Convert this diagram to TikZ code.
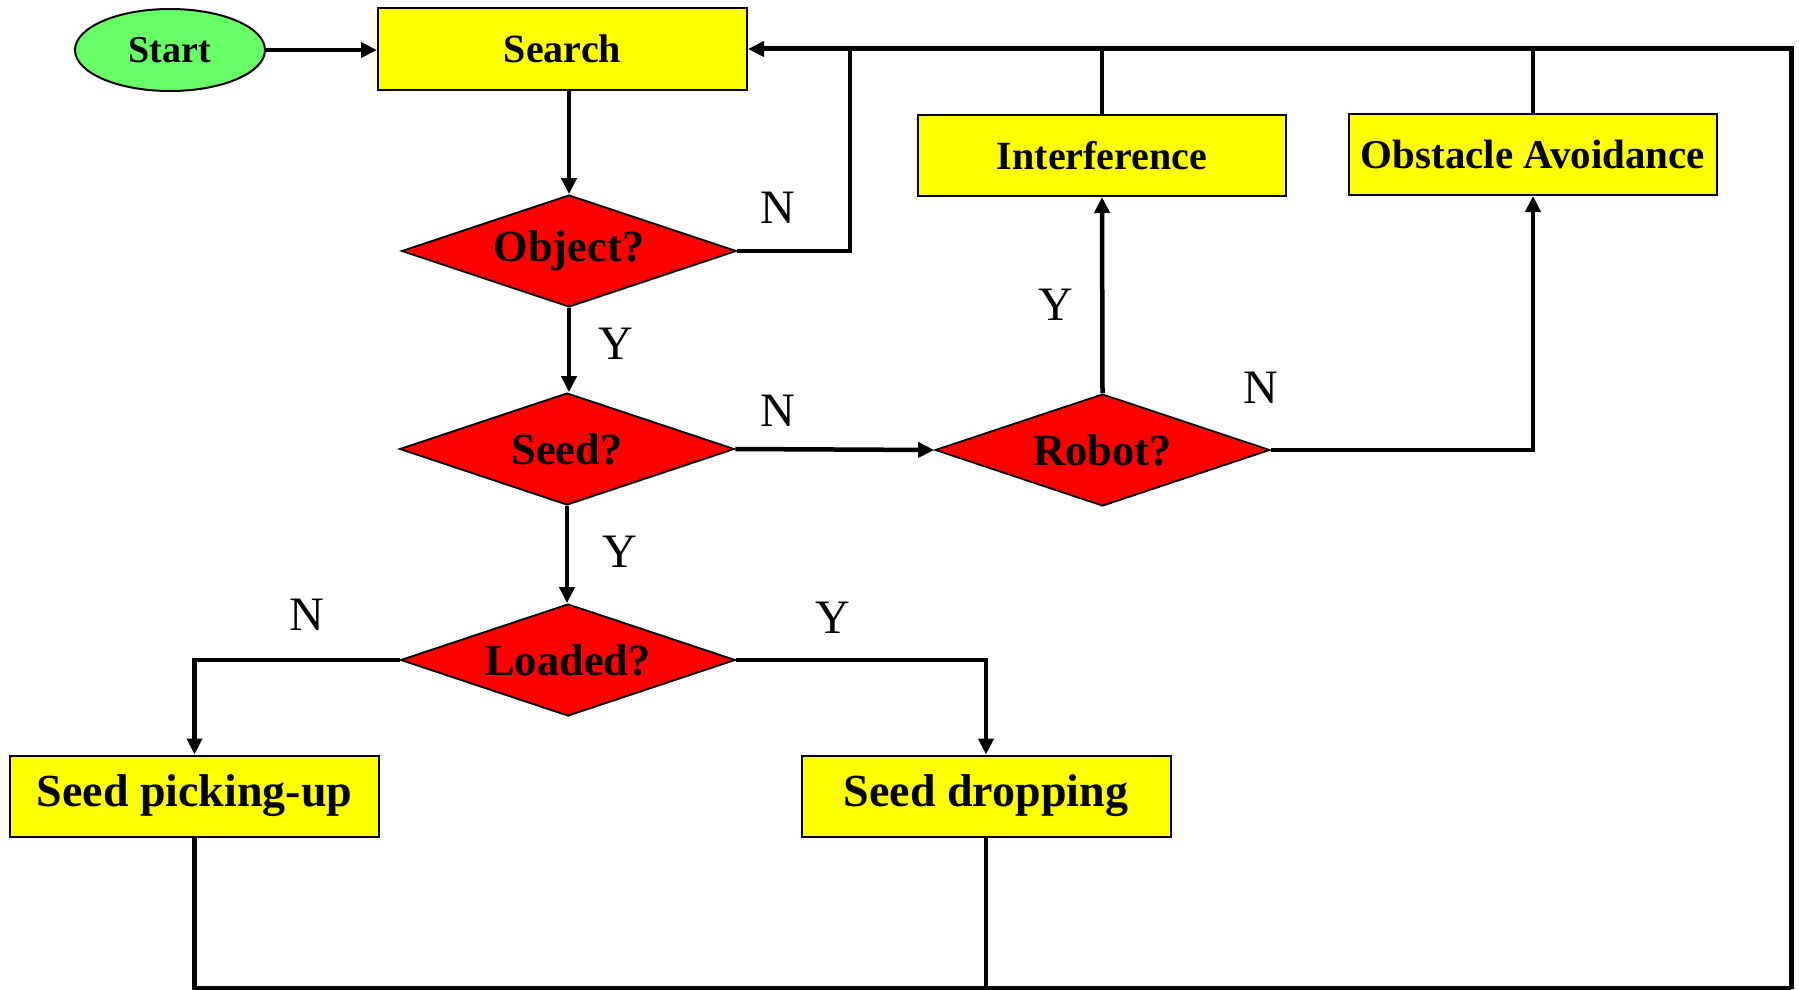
\documentclass[tikz,border=0pt]{standalone}
\usepackage{fontspec}
\setmainfont{Liberation Serif}
\usetikzlibrary{shapes.geometric,arrows.meta}
\definecolor{startgreen}{HTML}{66FF66}
\definecolor{boxyellow}{HTML}{FFFF00}
\definecolor{decred}{HTML}{FF0000}
\begin{document}
\begin{tikzpicture}[x=1pt,y=-1pt,
  every node/.style={inner sep=0pt},
  proc/.style={draw=black, line width=2pt, fill=boxyellow, minimum width=369pt, minimum height=81pt, font=\bfseries\fontsize{40}{46}\selectfont},
  bigproc/.style={proc, font=\bfseries\fontsize{46}{52}\selectfont},
  dec/.style={draw=black, line width=1.8pt, fill=decred, shape=diamond, aspect=3, minimum width=335pt, minimum height=112pt, font=\bfseries\fontsize{44.5}{50}\selectfont},
  lbl/.style={font=\fontsize{48}{55}\selectfont},
  conn/.style={line width=4.5pt, line join=miter},
  arr/.style={conn, -{Triangle[length=16pt,width=15pt]}}]
\useasboundingbox (0,0) rectangle (1799,990);

% nodes
\node[draw=black, line width=2pt, fill=startgreen, ellipse, minimum width=190pt, minimum height=82pt, font=\bfseries\fontsize{38}{43}\selectfont] (start) at (170,50) {Start};
\node[proc] (search) at (562.5,49) {Search};
\node[dec] (object) at (569,251) {Object?};
\node[dec] (seed) at (567,449) {Seed?};
\node[dec] (robot) at (1102.5,450) {Robot?};
\node[dec] (loaded) at (568,660) {Loaded?};
\node[proc, minimum width=368pt] (interf) at (1102,155.5) {Interference};
\node[proc, minimum width=368pt, font=\bfseries\fontsize{41}{46}\selectfont] (obst) at (1533,154.5) {Obstacle Avoidance};
\node[bigproc] (pick) at (194.5,796) {Seed picking-up};
\node[bigproc] (drop) at (986,796) {Seed dropping};

% labels
\node[lbl] (nobj) at (777.5,208) {N};
\node[lbl] (yobj) at (616,344) {Y};
\node[lbl] (nseed) at (778,411) {N};
\node[lbl] (yseed) at (619.5,552) {Y};
\node[lbl] (yrob) at (1056,305) {Y};
\node[lbl] (nrob) at (1261,388) {N};
\node[lbl] (nload) at (306.5,615) {N};
\node[lbl] (yload) at (833,618) {Y};

% helper coordinates
\coordinate (jobj) at (850,49);
\coordinate (tr) at (1791,49);
\coordinate (br) at (1791,988.5);

% connectors
\draw[arr] (start) -- (search.west |- start);
\draw[arr] (object.north |- search.south) -- (object.north);
\draw[arr] (object.south) -- (object.south |- seed.north);
\draw[conn] (object.east) -| (jobj);
\draw[arr, line width=5pt] (br) -- (tr) -- (search.east);
\draw[conn] (interf.north) -- (interf.north |- tr);
\draw[conn] (obst.north) -- (obst.north |- tr);
\draw[arr] (seed.east) -- (robot.west);
\draw[arr] (robot.north) -- (interf.south);
\draw[arr] (robot.east) -| (obst.south);
\draw[arr] (seed.south) -- (seed.south |- loaded.north);
\draw[arr] (loaded.west) -| (pick.north);
\draw[arr] (loaded.east) -| (drop.north);
\draw[conn] (pick.south) -- (pick.south |- br) -- (br);
\draw[conn] (drop.south) -- (drop.south |- br);
\end{tikzpicture}
\end{document}
